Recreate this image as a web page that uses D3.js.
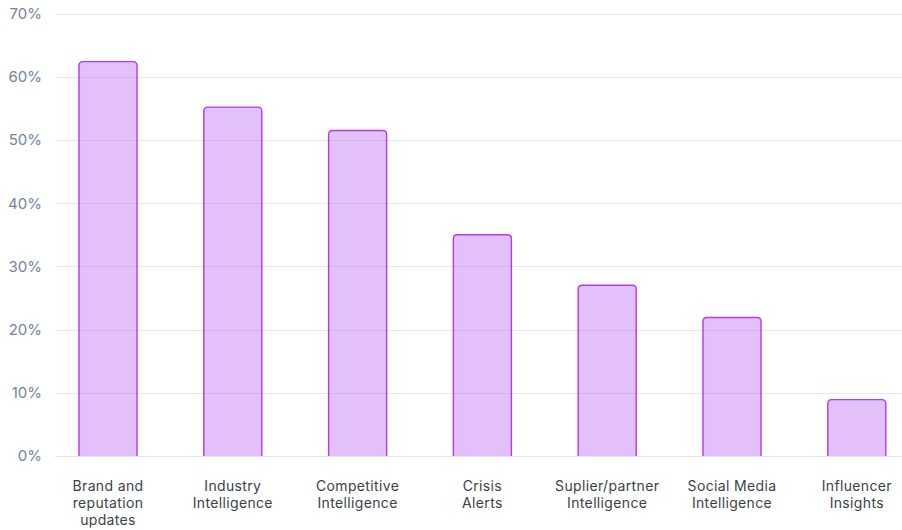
<!DOCTYPE html>
<html>
<head>
<meta charset="utf-8">
<script src="https://cdn.jsdelivr.net/npm/d3@7"></script>
<style>
  html, body { margin: 0; padding: 0; background: #ffffff; }
  svg { display: block; font-family: "Inter", "Open Sans", sans-serif; }
</style>
</head>
<body>
<svg id="chart" width="902" height="530"></svg>
<script>
// Share of respondents using each monitoring type (%)
const categories = [
  ["Brand and", "reputation", "updates"],
  ["Industry", "Intelligence"],
  ["Competitive", "Intelligence"],
  ["Crisis", "Alerts"],
  ["Suplier/partner", "Intelligence"],
  ["Social Media", "Intelligence"],
  ["Influencer", "Insights"]
];
const values = [62.5, 55.3, 51.6, 35.1, 27.1, 22.0, 9.0];
const yTicks = [0, 10, 20, 30, 40, 50, 60, 70];

const svg = d3.select("#chart");
const gridLeft = 55, gridRight = 902;

const keys = categories.map(c => c.join(" "));

const x = d3.scaleBand()
  .domain(keys)
  .range([45.6, 919.2])
  .paddingInner(0.527)
  .paddingOuter(0.2635);

const y = d3.scaleLinear().domain([0, 70]).range([456, 13.7]);

// horizontal gridlines
svg.append("g")
  .selectAll("line")
  .data(yTicks)
  .join("line")
  .attr("x1", gridLeft)
  .attr("x2", gridRight)
  .attr("y1", d => Math.round(y(d)) + 0.5)
  .attr("y2", d => Math.round(y(d)) + 0.5)
  .attr("stroke", "#e6e7eb")
  .attr("stroke-width", 1);

// y-axis labels
const yAxis = d3.axisLeft(y).tickValues(yTicks).tickFormat(d => d + "%").tickSize(0).tickPadding(0);
const yg = svg.append("g").attr("transform", "translate(42,0)").call(yAxis);
yg.select(".domain").remove();
yg.selectAll("text")
  .attr("fill", "#73839a")
  .style("font-size", "15px")
  .style("font-family", "Inter, 'Open Sans', sans-serif");

// bars with rounded top corners
const r = 4;
function barPath(d, i) {
  const x0 = x(keys[i]) + 0.5, x1 = x0 + x.bandwidth() - 1;
  const y0 = y(d) + 0.5, yb = y(0);
  return `M${x0},${yb} L${x0},${y0 + r} Q${x0},${y0} ${x0 + r},${y0} L${x1 - r},${y0} Q${x1},${y0} ${x1},${y0 + r} L${x1},${yb}`;
}
svg.append("g")
  .selectAll("path")
  .data(values)
  .join("path")
  .attr("d", (d, i) => barPath(d, i))
  .attr("fill", "rgba(183, 90, 242, 0.38)")
  .attr("stroke", "#b23af3")
  .attr("stroke-width", 1.4);

// category labels
const xg = svg.append("g");
categories.forEach((lines, i) => {
  const t = xg.append("text")
    .attr("x", x(keys[i]) + x.bandwidth() / 2)
    .attr("y", 491)
    .attr("text-anchor", "middle")
    .attr("fill", "#3b3f4a")
    .style("font-size", "14px")
    .style("letter-spacing", "0.35px");
  lines.forEach((ln, j) => {
    t.append("tspan")
      .attr("x", x(keys[i]) + x.bandwidth() / 2)
      .attr("dy", j === 0 ? 0 : 17)
      .text(ln);
  });
});
</script>
</body>
</html>
